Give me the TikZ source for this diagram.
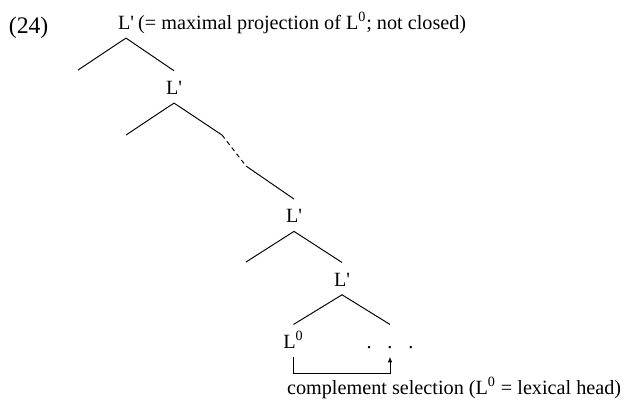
\documentclass[tikz,border=0pt]{standalone}
\usepackage{fontspec}
\setmainfont{Liberation Serif}
\usetikzlibrary{arrows.meta,positioning}
\newcommand{\lbar}{L\textquotesingle}
\newcommand{\lzero}{L\textsuperscript{0}}

\begin{document}
\begin{tikzpicture}[
  font=\fontsize{11.5}{14}\selectfont,
  lab/.style={anchor=base, inner xsep=0pt, inner ysep=4.8pt, text height=8.4pt, text depth=0pt},
  txt/.style={inner sep=0pt},
  branch/.style={line width=0.55pt},
  sel/.style={-{Latex[length=3.2pt,width=2.6pt]}, line width=0.5pt}
]
\useasboundingbox (0,0) rectangle (12.54,-8.02);
\node[txt, anchor=base west, font=\fontsize{13.5}{16}\selectfont] (ex) at (0.17,-0.666) {(24)};
\node[lab] (r) at (2.52,-0.586) {\lbar};
\node[txt, anchor=base west] (note) at ([xshift=2pt]r.base east) {(= maximal projection of \lzero; not closed)};
\node[lab] (n1) at (3.48,-1.886) {\lbar};
\node[lab] (n2) at (5.88,-4.452) {\lbar};
\node[lab] (n3) at (6.84,-5.72) {\lbar};
\node[lab] (head) at (5.87,-6.96) {\lzero};
\node[lab] (comp) at (7.8,-6.96) {.\hspace{9pt}.\hspace{9pt}.};
\node[txt, anchor=base west] (cap) at (5.734,-7.88) {complement selection (\lzero{} = lexical head)};

\coordinate (rl) at (1.56,-1.4);
\coordinate (n1l) at (2.52,-2.7);
\coordinate (d1) at (4.44,-2.7);
\coordinate (d2) at (4.92,-3.32);
\coordinate (n2l) at (4.92,-5.24);

\draw[branch] (rl) -- (r.south) -- (n1.north);
\draw[branch] (n1l) -- (n1.south) -- (d1);
\draw[branch, dash pattern=on 2.5pt off 2pt] (d1) -- (d2);
\draw[branch] (d2) -- (n2.north);
\draw[branch] (n2l) -- (n2.south) -- (n3.north);
\draw[branch] (head.north) -- (n3.south) -- (comp.north);
\draw[sel] (head.south) -- ++(0,-0.33) -| (comp.south);
\end{tikzpicture}
\end{document}
